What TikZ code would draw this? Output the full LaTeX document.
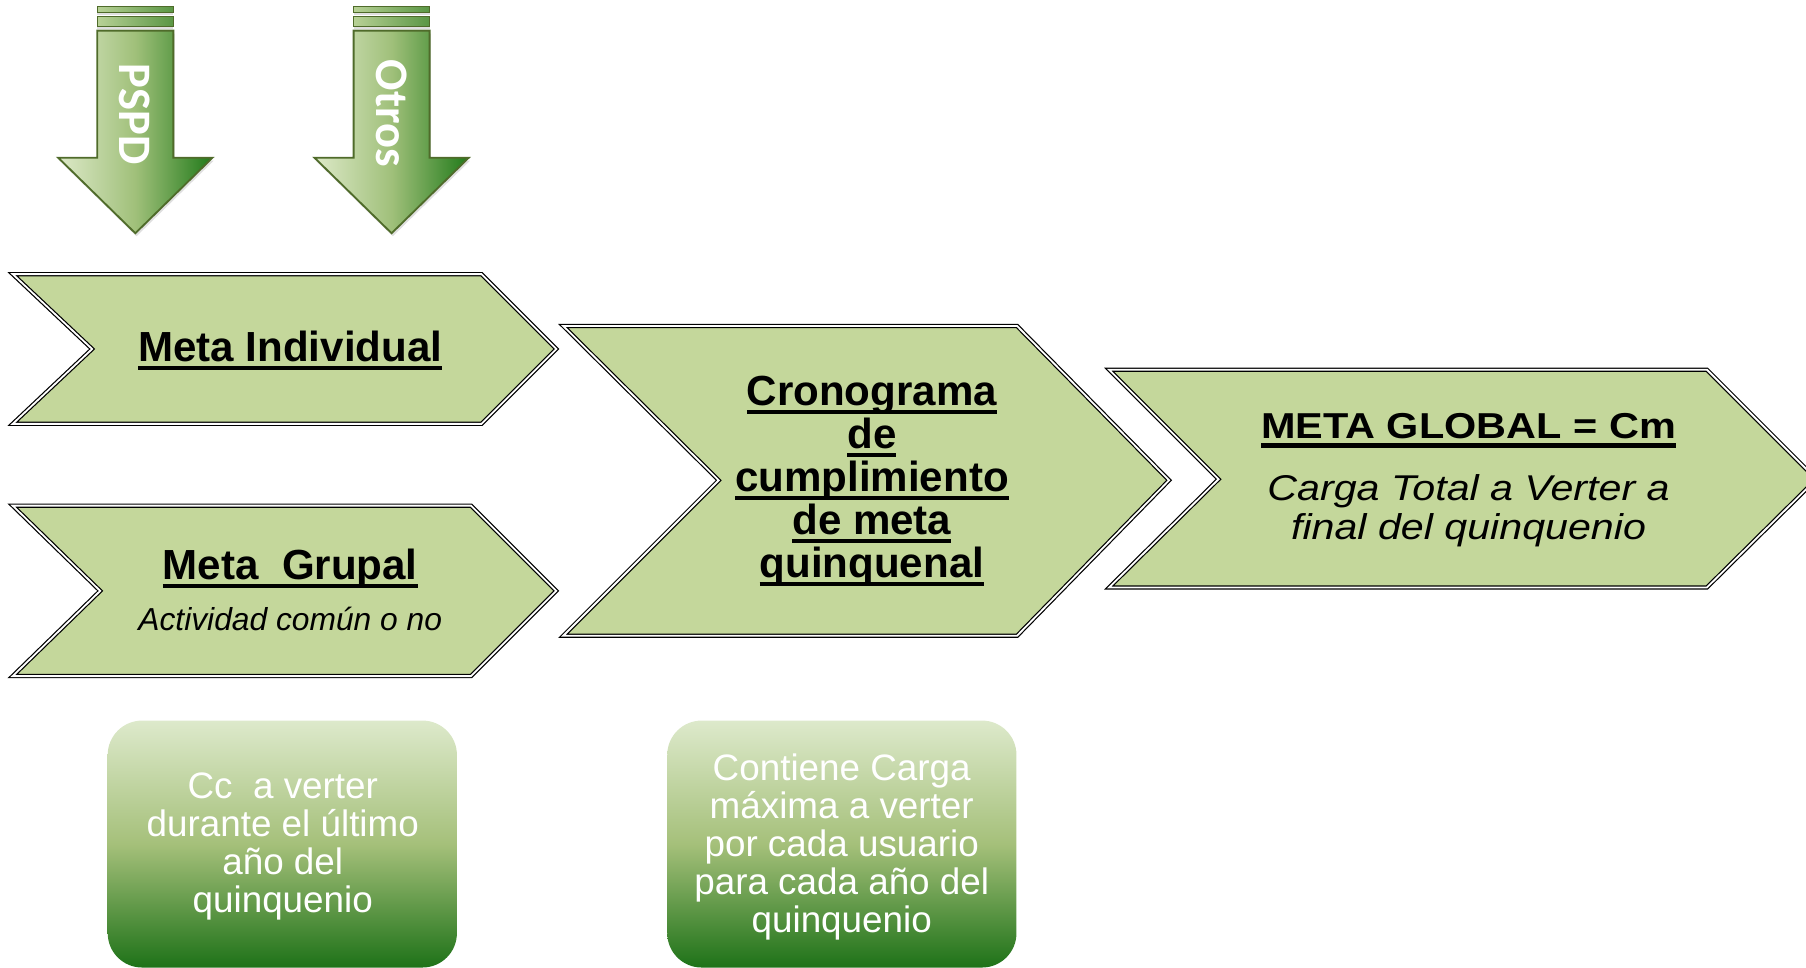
\documentclass[tikz,border=0pt]{standalone}
\usepackage{fontspec}
\setmainfont{Liberation Sans}
\newfontfamily\arrowfont{Carlito}
\usepackage{tikz}
\usetikzlibrary{shadows}
\usepackage{xcolor}
\definecolor{chevgreen}{HTML}{C4D79B}
\definecolor{arrlight}{HTML}{DDE9C8}
\definecolor{arrmid}{HTML}{A0C07A}
\definecolor{arrdark}{HTML}{217A1A}
\definecolor{arredge}{HTML}{4F6B2A}
\definecolor{barlight}{HTML}{B8D196}
\definecolor{bardark}{HTML}{5A9644}
\definecolor{boxtop}{HTML}{DDE9CB}
\definecolor{boxmid}{HTML}{A5C07A}
\definecolor{boxbot}{HTML}{1E7218}
\newsavebox\ulsave
\newcommand{\uln}[1]{\sbox\ulsave{#1}\rlap{\rule[-4.35pt]{\wd\ulsave}{2.1pt}}\usebox\ulsave}

\begin{document}
\begin{tikzpicture}[x=0.02cm, y=-0.02cm, thick,
  chevbox/.style={fill=chevgreen, draw=black, line width=0.6pt, double=white, double distance=0.9pt},
  arrowbody/.style={draw=arredge, line width=0.9pt, left color=arrlight, right color=arrdark, middle color=arrmid, drop shadow={opacity=0.25, shadow xshift=0.6pt, shadow yshift=-1.5pt}},
  barbody/.style={draw=arredge, line width=0.6pt, left color=barlight, right color=bardark, drop shadow={opacity=0.25, shadow xshift=0pt, shadow yshift=-1.2pt}},
  greenbox/.style={top color=boxtop, bottom color=boxbot, middle color=boxmid, rounded corners=17pt},
  arrowlabel/.style={rotate=-90, inner sep=0pt, text=white, font=\fontsize{23}{24}\arrowfont\bfseries},
  titlelabel/.style={inner sep=0pt, align=center, font=\fontsize{20.8}{21.3}\selectfont\bfseries},
  boxlabel/.style={inner sep=0pt, align=center, text=white, font=\fontsize{18.2}{18.8}\selectfont}]

\clip (0,0) rectangle (1568,840);

% arrows on top
\draw[barbody] (84.5,5.8) rectangle (150.5,10.7);
\draw[barbody] (84.5,14.5) rectangle (150.5,23.2);
\draw[arrowbody] (84.5,26.6) -- (150.5,26.6) -- (150.5,136.9) -- (184.5,136.9) -- (117.5,202.5) -- (50.5,136.9) -- (84.5,136.9) -- cycle;
\node[arrowlabel] (pspd) at (116.5,99) {PSPD};

\draw[barbody] (307,5.8) rectangle (373,10.7);
\draw[barbody] (307,14.5) rectangle (373,23.2);
\draw[arrowbody] (307,26.6) -- (373,26.6) -- (373,136.9) -- (407,136.9) -- (340,202.5) -- (273,136.9) -- (307,136.9) -- cycle;
\node[arrowlabel] (otros) at (339.8,98.4) {Otros};

% chevrons
\filldraw[chevbox] (11,238) -- (418,238) -- (483,303) -- (418,368) -- (11,368) -- (80,303) -- cycle;
\filldraw[chevbox] (11,439) -- (409,439) -- (483,513) -- (409,587) -- (11,587) -- (87,513) -- cycle;
\filldraw[chevbox] (489,283) -- (883,283) -- (1015,417) -- (883,552) -- (489,552) -- (624,417) -- cycle;
\filldraw[chevbox] (963,321) -- (1482,321) -- (1577,416) -- (1482,510) -- (963,510) -- (1058,416) -- cycle;

\node[titlelabel, anchor=base] (indiv) at (252,314) {\uln{Meta Individual}};
\node[titlelabel, anchor=base] (grupal) at (252,503) {\uln{Meta~~Grupal}};
\node[anchor=base, inner sep=0pt, font=\fontsize{15.7}{18}\selectfont\itshape] (activ) at (252,547.7) {Actividad común o no};
\node[titlelabel, anchor=north] (crono) at (757,325.4) {\uln{Cronograma}\\ \uln{de}\\ \uln{cumplimiento}\\ \uln{de meta}\\ \uln{quinquenal}};
\node[inner sep=0pt, anchor=north, font=\fontsize{17.7}{19}\selectfont] (global) at (1275,357) {\scalebox{1.15}[1]{\begin{tabular}{@{}c@{}}\fontsize{17.8}{19}\selectfont\bfseries\uln{META GLOBAL = Cm}\\[11.6pt] \itshape Carga Total a Verter a\\ \itshape final del quinquenio\end{tabular}}};

% boxes below
\path[greenbox] (93.5,625.6) rectangle (396.7,840);
\node[boxlabel, anchor=north] (cc) at (245.5,670.1) {Cc~~a verter\\ durante el último\\ año del\\ quinquenio};
\path[greenbox] (579.3,625.6) rectangle (882.5,840);
\node[boxlabel, anchor=north] (carga) at (730.8,653.6) {Contiene Carga\\ máxima a verter\\ por cada usuario\\ para cada año del\\ quinquenio};
\end{tikzpicture}
\end{document}
